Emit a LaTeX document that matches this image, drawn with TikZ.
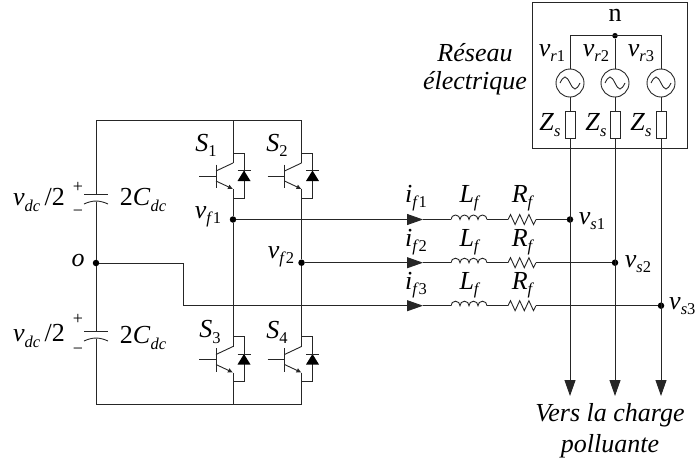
\documentclass[tikz,border=0pt]{standalone}
\usepackage{fontspec}
\setmainfont{Liberation Serif}
\usepackage{tikz}
\usetikzlibrary{arrows.meta,positioning}
\newcommand{\subtxt}[2]{\textit{#1}\raisebox{-.2em}{\fontsize{16.5}{16.5}\selectfont #2}}
\tikzset{
    %Define wire style
    wire/.style={
           draw=black!85,
           line width=.9pt},
    %Define style for labels
    lbl/.style={
           inner sep=0pt,
           font=\fontsize{26}{28}\selectfont},
    pm/.style={
           inner sep=0pt,
           font=\fontsize{18}{18}\selectfont},
    dot/.style={
           circle,
           fill=black,
           inner sep=0pt,
           minimum size=6.5pt},
    % Define arrow styles
    pil/.style={
           wire,
           -{Triangle[length=16pt,width=11pt]}},
    %Define style for the components
    source/.style={
           circle,
           wire,
           inner sep=0pt,
           minimum size=28pt,
           path picture={
             \draw[wire] ([xshift=-10pt]path picture bounding box.center)
               sin +(5pt,6pt) cos +(5pt,-6pt) sin +(5pt,-6pt) cos +(5pt,6pt);}},
    imped/.style={
           rectangle,
           wire,
           inner sep=0pt,
           minimum width=10pt,
           minimum height=27pt},
    coil/.style={
           rectangle,
           inner sep=0pt,
           minimum width=36pt,
           minimum height=12pt,
           path picture={
             \draw[wire] ([xshift=-18pt]path picture bounding box.center)
               arc[start angle=180,end angle=0,radius=4.5pt]
               arc[start angle=180,end angle=0,radius=4.5pt]
               arc[start angle=180,end angle=0,radius=4.5pt]
               arc[start angle=180,end angle=0,radius=4.5pt];}},
    resist/.style={
           rectangle,
           inner sep=0pt,
           minimum width=28pt,
           minimum height=13pt,
           path picture={
             \draw[wire] ([xshift=-14pt]path picture bounding box.center)
               -- ++(2.5pt,5pt) -- ++(4.6pt,-10pt) -- ++(4.6pt,10pt)
               -- ++(4.6pt,-10pt) -- ++(4.6pt,10pt) -- ++(4.6pt,-10pt) -- ++(2.5pt,5pt);}},
    igbt/.pic={
        \coordinate (-c) at (0,-13);
        \coordinate (-e) at (0,13);
        \draw[wire] (-34,0) -- (-17,0);
        \draw[wire] (-17,-11.5) -- (-17,12);
        \draw[wire] (-17,-5) -- (0,-13);
        \draw[wire,-{Latex[length=5pt,width=5pt]}] (-17,5) -- (0,13);
        \draw[wire] (0,-23) -- (11,-23) -- (11,22) -- (0,22);
        \fill (4.5,5) -- (17.5,5) -- (11,-5.5) -- cycle;
        \draw[wire] (4.5,-5.5) -- (17.5,-5.5);
    },
    capa/.pic={
        \coordinate (-a) at (0,-4);
        \coordinate (-b) at (0,4);
        \draw[wire] (-12,-4) -- (12,-4);
        \draw[wire] (-12,6) to[bend left=25] (12,6);
    }
}

\begin{document}
\begin{tikzpicture}[x=1pt,y=-1pt]
\useasboundingbox (0,0) rectangle (695,464);

% DC side
\coordinate (tl) at (96,120.5);
\coordinate (t1) at (233,120.5);
\coordinate (t2) at (301.5,120.5);
\coordinate (bl) at (96,404);
\coordinate (b1) at (233,404);
\coordinate (b2) at (301.5,404);
\node[dot](o) at (96,263){};
\pic (C1) at (96,198) {capa};
\pic (C2) at (96,335) {capa};
\draw[wire] (t2) -- (t1) -- (tl) -- (C1-a);
\draw[wire] (C1-b) -- (o) -- (C2-a);
\draw[wire] (C2-b) -- (bl) -- (b1) -- (b2);

% Bridge
\pic (S1) at (233,176) {igbt};
\pic (S2) at (301.5,176) {igbt};
\pic (S3) at (233,359.5) {igbt};
\pic (S4) at (301.5,359.5) {igbt};
\node[dot](vf1) at (233,219.5){};
\node[dot](vf2) at (301.5,262.7){};
\draw[wire] (t1) -- (S1-c);
\draw[wire] (t2) -- (S2-c);
\draw[wire] (S1-e) -- (vf1) -- (S3-c);
\draw[wire] (S2-e) -- (vf2) -- (S4-c);
\draw[wire] (S3-e) -- (b1);
\draw[wire] (S4-e) -- (b2);

% Lines to the grid
\coordinate (a1) at (423,219.5);
\coordinate (a2) at (423,262.7);
\coordinate (a3) at (423,305.7);
\coordinate (k1) at (183,263);
\coordinate (k2) at (183,305.7);
\node[coil](L1) at (469,219.5){};
\node[coil](L2) at (469,262.7){};
\node[coil](L3) at (469,305.7){};
\node[resist](R1) at (522,219.5){};
\node[resist](R2) at (522,262.7){};
\node[resist](R3) at (522,305.7){};
\node[dot](vs1) at (570,219.5){};
\node[dot](vs2) at (615,262.7){};
\node[dot](vs3) at (661,305.7){};
\draw[pil] (vf1) -- (a1);
\draw[pil] (vf2) -- (a2);
\draw[wire] (o) -- (k1) -- (k2);
\draw[pil] (k2) -- (a3);
\path[wire]
    (a1) edge (L1)
    (L1) edge (R1)
    (R1) edge (vs1)
    (a2) edge (L2)
    (L2) edge (R2)
    (R2) edge (vs2)
    (a3) edge (L3)
    (L3) edge (R3)
    (R3) edge (vs3);

% Grid
\node[rectangle,wire,inner sep=0pt,minimum width=155pt,minimum height=145.5pt](grid) at (610.2,75.4){};
\node[dot,minimum size=5.5pt](n) at (615,35.7){};
\node[source](e1) at (570,83){};
\node[source](e2) at (615,83){};
\node[source](e3) at (661,83){};
\node[imped](Z1) at (570,125){};
\node[imped](Z2) at (615,125){};
\node[imped](Z3) at (661,125){};
\coordinate (n1) at (570,35.7);
\coordinate (n3) at (661,35.7);
\coordinate (out1) at (570,396);
\coordinate (out2) at (615,396);
\coordinate (out3) at (661,396);
\draw[wire] (e1) -- (n1) -- (n3) -- (e3);
\draw[wire] (n) -- (e2);
\draw[wire] (e1) -- (Z1);
\draw[wire] (e2) -- (Z2);
\draw[wire] (e3) -- (Z3);
\draw[pil] (Z1) -- (out1);
\draw[pil] (Z2) -- (out2);
\draw[pil] (Z3) -- (out3);

% Labels
\node[lbl](ln) at (615,15){n};
\node[lbl](res1) at (475,53){\textit{Réseau}};
\node[lbl](res2) at (475,83){\textit{électrique}};
\node[lbl](lvr1) at (552,53){\subtxt{v}{\textit{r}1}};
\node[lbl](lvr2) at (596,53){\subtxt{v}{\textit{r}2}};
\node[lbl](lvr3) at (641,53){\subtxt{v}{\textit{r}3}};
\node[lbl](lZ1) at (550,125){\subtxt{Z}{\textit{s}}};
\node[lbl](lZ2) at (596,125){\subtxt{Z}{\textit{s}}};
\node[lbl](lZ3) at (641,125){\subtxt{Z}{\textit{s}}};
\node[lbl](lS1) at (206,145){\subtxt{S}{1}};
\node[lbl](lS2) at (277,145){\subtxt{S}{2}};
\node[lbl](lS3) at (210,332){\subtxt{S}{3}};
\node[lbl](lS4) at (277,332){\subtxt{S}{4}};
\node[lbl](lvf1) at (208,217){\subtxt{v}{\textit{f}1}};
\node[lbl](lvf2) at (281,257){\subtxt{v}{\textit{f}2}};
\node[lbl](ldc1) at (39,200){\subtxt{v}{\textit{dc}}\,/2};
\node[lbl](ldc2) at (39,336){\subtxt{v}{\textit{dc}}\,/2};
\node[lbl](lC1) at (143,200){2\subtxt{C}{\textit{dc}}};
\node[lbl](lC2) at (143,338){2\subtxt{C}{\textit{dc}}};
\node[pm](p1) at (78,187){+};
\node[pm](m1) at (78,213){\textminus};
\node[pm](p2) at (78,319){+};
\node[pm](m2) at (78,351){\textminus};
\node[lbl](lo) at (78,260){\textit{o}};
\node[lbl](li1) at (416,198){\subtxt{i}{\textit{f}1}};
\node[lbl](li2) at (416,242){\subtxt{i}{\textit{f}2}};
\node[lbl](li3) at (416,285){\subtxt{i}{\textit{f}3}};
\node[lbl](lL1) at (470,198){\subtxt{L}{\textit{f}}};
\node[lbl](lL2) at (470,242){\subtxt{L}{\textit{f}}};
\node[lbl](lL3) at (470,285){\subtxt{L}{\textit{f}}};
\node[lbl](lR1) at (523,198){\subtxt{R}{\textit{f}}};
\node[lbl](lR2) at (523,242){\subtxt{R}{\textit{f}}};
\node[lbl](lR3) at (523,285){\subtxt{R}{\textit{f}}};
\node[lbl](lvs1) at (592,221){\subtxt{v}{\textit{s}1}};
\node[lbl](lvs2) at (638,264){\subtxt{v}{\textit{s}2}};
\node[lbl,anchor=west](lvs3) at (669,306){\subtxt{v}{\textit{s}3}};
\node[lbl](ch1) at (610,415){\textit{Vers la charge}};
\node[lbl](ch2) at (610,446){\textit{polluante}};

\end{tikzpicture}
\end{document}
